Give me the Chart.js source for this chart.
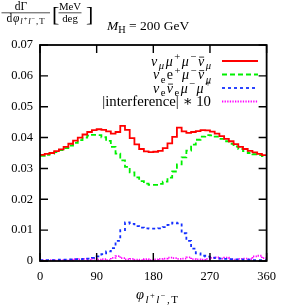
<!DOCTYPE html>
<html><head><meta charset="utf-8">
<script src="https://cdn.jsdelivr.net/npm/chart.js@4/dist/chart.umd.min.js"></script>
<style>html,body{margin:0;padding:0;background:#fff;}canvas{display:block;}</style>
</head><body>
<canvas id="c" width="284" height="307"></canvas>
<script>
// ---- data ----
const binEdges = [0,7.5,15,22.5,30,37.5,45,52.5,60,67.5,75,82.5,90,97.5,105,112.5,120,127.5,135,142.5,150,157.5,165,172.5,180,187.5,195,202.5,210,217.5,225,232.5,240,247.5,255,262.5,270,277.5,285,292.5,300,307.5,315,322.5,330,337.5,345,352.5,360];
const seriesRed = [0.0344,0.0347,0.0350,0.0356,0.0362,0.0370,0.0380,0.0390,0.0400,0.0410,0.0418,0.0424,0.0427,0.0425,0.0420,0.0413,0.0418,0.0438,0.0425,0.0398,0.0378,0.0363,0.0355,0.0353,0.0354,0.0357,0.0366,0.0381,0.0402,0.0432,0.0420,0.0415,0.0418,0.0421,0.0424,0.0423,0.0419,0.0413,0.0405,0.0396,0.0388,0.0379,0.0370,0.0363,0.0357,0.0352,0.0347,0.0343];
const seriesGreen = [0.0341,0.0344,0.0348,0.0353,0.0359,0.0366,0.0374,0.0383,0.0392,0.0400,0.0406,0.0409,0.0408,0.0401,0.0389,0.0370,0.0348,0.0326,0.0305,0.0287,0.0271,0.0259,0.0251,0.0247,0.0247,0.0250,0.0257,0.0270,0.0290,0.0313,0.0336,0.0358,0.0377,0.0393,0.0403,0.0408,0.0407,0.0403,0.0396,0.0388,0.0380,0.0371,0.0363,0.0356,0.0350,0.0346,0.0343,0.0340];
const seriesBlue = [0.0003,0.0003,0.0003,0.0003,0.0004,0.0004,0.0005,0.0006,0.0006,0.0007,0.0008,0.0010,0.0015,0.0022,0.0031,0.0042,0.0065,0.0100,0.0125,0.0120,0.0113,0.0108,0.0106,0.0105,0.0105,0.0106,0.0110,0.0117,0.0124,0.0122,0.0090,0.0065,0.0040,0.0025,0.0017,0.0014,0.0011,0.0009,0.0008,0.0007,0.0006,0.0005,0.0005,0.0004,0.0004,0.0003,0.0003,0.0003];
const seriesMagenta = [0.0002,0.0002,0.0003,0.0002,0.0003,0.0002,0.0004,0.0006,0.0005,0.0007,0.0003,0.0008,0.0004,0.0006,0.0003,0.0010,0.0016,0.0009,0.0005,0.0007,0.0004,0.0003,0.0006,0.0003,0.0005,0.0007,0.0008,0.0011,0.0009,0.0007,0.0008,0.0012,0.0006,0.0005,0.0004,0.0007,0.0010,0.0012,0.0008,0.0011,0.0005,0.0004,0.0007,0.0008,0.0006,0.0015,0.0017,0.0009];
const seriesLabels = ['ν_{μ}μ^{+}μ^{−}\\bar{ν}_{μ}', 'ν_{e}e^{+}μ^{−}\\bar{ν}_{μ}', 'ν_{e}\\bar{ν}_{e}μ^{−}μ^{+}', '|interference| ∗ 10'];
const xTickValues = [0,90,180,270,360];
const xTickLabels = ['0','90','180','270','360'];
const yTickValues = [0,0.01,0.02,0.03,0.04,0.05,0.06,0.07];
const yTickLabels = ['0','0.01','0.02','0.03','0.04','0.05','0.06','0.07'];
const titleNum = 'dΓ';
const titleDen = 'dφ_{\\i{l}^{+}\\i{l}^{−},T}';
const unitNum = 'MeV';
const unitDen = 'deg';
const titleMass = '\\i{M}_{H} = 200 GeV';
const xAxisTitle = 'φ_{\\i{l}^{+}\\i{l}^{−},T}';

// ---- rich text helpers ----
const FONT = '"Liberation Serif", "DejaVu Serif", serif';
const SUB = 0.76;
function parseRich(str){
  const segs=[];
  function grp(s,p){let d=0;for(let k=p;k<s.length;k++){if(s[k]==='{')d++;else if(s[k]==='}'){d--;if(d===0)return [s.slice(p+1,k),k+1];}}return [s.slice(p+1),s.length];}
  function walk(s,st){
    let p=0;
    while(p<s.length){
      const c=s[p];
      if((c==='_'||c==='^')&&s[p+1]==='{'){const [g,e]=grp(s,p+1);walk(g,{...st,lvl:st.lvl+1,off:st.off+(c==='_'?0.25:-0.38)*Math.pow(SUB,st.lvl)});p=e;}
      else if(s.startsWith('\\i{',p)){const [g,e]=grp(s,p+2);walk(g,{...st,it:true});p=e;}
      else if(s.startsWith('\\bar{',p)){const [g,e]=grp(s,p+4);walk(g,{...st,bar:true});p=e;}
      else {segs.push({t:c,lvl:st.lvl,off:st.off,it:st.it||/[α-ω]/.test(c),bar:st.bar});p++;}
    }
  }
  walk(str,{lvl:0,off:0,it:false,bar:false});
  return segs;
}
function plain(str){return str.replace(/\\bar\{([^}]*)\}/g,'$1\u0304').replace(/\\i\{([^}]*)\}/g,'$1').replace(/[_^]\{/g,'').replace(/[{}]/g,'');}
function segFont(sg,base){return (sg.it?'italic ':'')+(base*Math.pow(SUB,sg.lvl)).toFixed(2)+'px '+FONT;}
function richWidth(ctx,str,base){let w=0;for(const sg of parseRich(str)){ctx.font=segFont(sg,base);w+=ctx.measureText(sg.t).width;}return w;}
function drawRich(ctx,str,x,y,base,align,target){
  const segs=parseRich(str);
  const w0=richWidth(ctx,str,base);
  const extra = target && segs.length>1 ? Math.max(0,(target-w0)/(segs.length-1)) : 0;
  const w = w0 + extra*(segs.length-1);
  let cx = align==='right'?x-w:(align==='center'?x-w/2:x);
  ctx.save();ctx.textAlign='left';ctx.textBaseline='alphabetic';ctx.fillStyle='#000';ctx.strokeStyle='#000';
  for(const sg of segs){
    ctx.font=segFont(sg,base);
    const sw=ctx.measureText(sg.t).width;
    const yy=y+sg.off*base;
    ctx.fillText(sg.t,cx,yy);
    if(sg.bar){const s=base*Math.pow(SUB,sg.lvl);ctx.lineWidth=0.8;ctx.beginPath();ctx.moveTo(cx+sw*0.2,yy-s*0.6);ctx.lineTo(cx+sw*1.0,yy-s*0.6);ctx.stroke();}
    cx+=sw+extra;
  }
  ctx.restore();
}

// ---- datasets ----
function toPts(vals){const pts=vals.map((v,i)=>({x:binEdges[i],y:v}));pts.push({x:binEdges[vals.length],y:vals[vals.length-1]});return pts;}
const styles=[
  {color:'#ff0000',dash:[]},
  {color:'#00f000',dash:[5,3]},
  {color:'#1530ff',dash:[3,3]},
  {color:'#ff00ff',dash:[1.3,1.3]}
];
const allSeries=[seriesRed,seriesGreen,seriesBlue,seriesMagenta];
const datasets=allSeries.map((s,i)=>({label:plain(seriesLabels[i]),data:toPts(s),stepped:'before',borderColor:styles[i].color,borderDash:styles[i].dash,borderWidth:1.8,pointRadius:0,fill:false,tension:0}));

const framePlugin={
  id:'frame',
  afterDatasetsDraw(chart){
    const {ctx,chartArea:a,scales:{x,y}}=chart;
    ctx.save();
    ctx.strokeStyle='#000';ctx.lineWidth=1.8;
    ctx.strokeRect(a.left,a.top,a.right-a.left,a.bottom-a.top);
    ctx.lineWidth=1.4;const tl=8;
    ctx.beginPath();
    for(const v of xTickValues){const px=x.getPixelForValue(v);ctx.moveTo(px,a.bottom);ctx.lineTo(px,a.bottom-tl);ctx.moveTo(px,a.top);ctx.lineTo(px,a.top+tl);}
    for(const v of yTickValues){const py=y.getPixelForValue(v);ctx.moveTo(a.left,py);ctx.lineTo(a.left+tl,py);ctx.moveTo(a.right,py);ctx.lineTo(a.right-tl,py);}
    ctx.stroke();
    // legend
    const lx1=222,lx2=258,ty=[61,74.5,88,101.5];
    const legW=[60,58,58,0];
    const legF=[14,14,14,14.8];
    for(let i=0;i<seriesLabels.length;i++){
      drawRich(ctx,seriesLabels[i],211,ty[i]+4.5,legF[i],'right',legW[i]);
      ctx.strokeStyle=styles[i].color;ctx.lineWidth=1.8;ctx.setLineDash(styles[i].dash);
      ctx.beginPath();ctx.moveTo(lx1,ty[i]);ctx.lineTo(lx2,ty[i]);ctx.stroke();ctx.setLineDash([]);
    }
    // titles
    drawRich(ctx,titleNum,21,9.5,11.5,'center');
    ctx.strokeStyle='#000';ctx.lineWidth=0.7;
    ctx.beginPath();ctx.moveTo(1.5,12.8);ctx.lineTo(50,12.8);ctx.stroke();
    drawRich(ctx,titleDen,25.5,21.5,11.5,'center',38);
    ctx.fillStyle='#000';ctx.font='22px '+FONT;ctx.textAlign='left';ctx.textBaseline='alphabetic';
    ctx.fillText('[',52,20.5);ctx.fillText(']',86,20.5);
    drawRich(ctx,unitNum,70,10,10.8,'center');
    ctx.beginPath();ctx.moveTo(58.5,12.8);ctx.lineTo(81.5,12.8);ctx.stroke();
    drawRich(ctx,unitDen,70,21.5,10.8,'center');
    drawRich(ctx,titleMass,107,30,13.5,'left');
    drawRich(ctx,xAxisTitle,157,299,14.5,'center',42);
    ctx.restore();
  }
};

new Chart(document.getElementById('c'),{
  type:'line',
  data:{datasets},
  options:{
    responsive:false,animation:false,devicePixelRatio:1,
    layout:{padding:{top:45,right:12,left:0,bottom:0}},
    plugins:{legend:{display:false},tooltip:{enabled:false}},
    scales:{
      x:{type:'linear',min:0,max:360,
        afterBuildTicks:s=>{s.ticks=xTickValues.map(v=>({value:v}));},
        afterFit:s=>{s.height=46;},
        ticks:{callback:(v)=>xTickLabels[xTickValues.indexOf(v)],color:'#000',font:{family:FONT,size:12.5},padding:8,maxRotation:0,autoSkip:false},
        grid:{display:false,drawTicks:false},border:{display:false}},
      y:{min:0,max:0.07,
        afterBuildTicks:s=>{s.ticks=yTickValues.map(v=>({value:v}));},
        afterFit:s=>{s.width=40;},
        ticks:{callback:(v)=>{const k=yTickValues.findIndex(t=>Math.abs(t-v)<1e-9);return k>=0?yTickLabels[k]:'';},color:'#000',font:{family:FONT,size:12.5},padding:7,autoSkip:false},
        grid:{display:false,drawTicks:false},border:{display:false}}
    }
  },
  plugins:[framePlugin]
});
</script>
</body></html>
